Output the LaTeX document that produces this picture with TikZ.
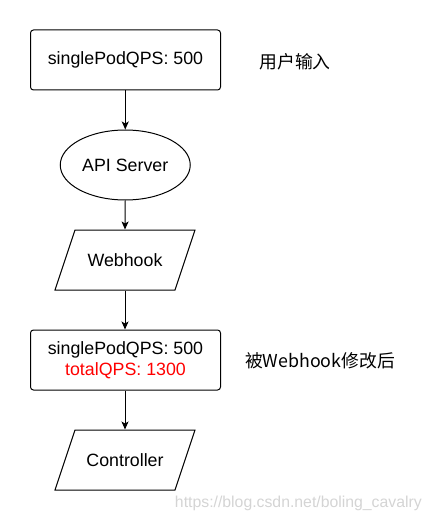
\documentclass[tikz,border=0pt]{standalone}
\usepackage{fontspec}
\setmainfont{Liberation Sans}
\newfontfamily\cjk{Noto Sans CJK SC}
\usetikzlibrary{shapes.geometric,arrows.meta,calc}
\definecolor{wm}{RGB}{212,212,212}
\tikzset{
  base/.style={font=\fontsize{17.8}{21}\selectfont, line width=1pt},
  boxstyle/.style={base, draw, rectangle, rounded corners=3pt, minimum width=190pt, minimum height=60pt, align=center, inner sep=0pt},
  ellstyle/.style={base, draw, ellipse, minimum width=130pt, minimum height=70pt, inner sep=0pt},
  parastyle/.style={base, rectangle, minimum width=120pt, minimum height=60pt, inner sep=0pt},
  paraline/.style={line width=1pt},
  arr/.style={line width=1pt, -{Stealth[length=8pt,width=7pt,inset=2pt]}},
  note/.style={font=\cjk\fontsize{17.8}{21}\selectfont, inner sep=0pt},
  wmark/.style={font=\fontsize{15.8}{18}\selectfont, text=wm, inner sep=0pt}
}
\begin{document}
\begin{tikzpicture}[x=1pt,y=-1pt]
\useasboundingbox (0,0) rectangle (431,521);
\node[boxstyle] (b1) at (125.5,60) {singlePodQPS: 500};
\node[note] (n1) at (295,62) {用户输入};
\node[ellstyle] (api) at (125.25,165) {API Server};
\node[parastyle] (wh) at (125,260) {Webhook};
\draw[paraline] ($(wh.center)+(-70,30)$) -- ($(wh.center)+(50,30)$) -- ($(wh.center)+(70,-30)$) -- ($(wh.center)+(-50,-30)$) -- cycle;
\node[boxstyle] (b2) at (125.5,360) {singlePodQPS: 500\\\textcolor{red}{totalQPS: 1300}};
\node[note] (n2) at (320,361) {被Webhook修改后};
\node[parastyle] (ct) at (125,460) {Controller};
\draw[paraline] ($(ct.center)+(-70,30)$) -- ($(ct.center)+(50,30)$) -- ($(ct.center)+(70,-30)$) -- ($(ct.center)+(-50,-30)$) -- cycle;
\node[wmark, anchor=east] (wm) at (422,503) {https://blog.csdn.net/boling\_cavalry};
\draw[arr] (b1.south -| api.north) -- (api.north);
\draw[arr] (api.south) -- (wh.north);
\draw[arr] (wh.south) -- (b2.north -| wh.south);
\draw[arr] (b2.south -| ct.north) -- (ct.north);
\end{tikzpicture}
\end{document}
